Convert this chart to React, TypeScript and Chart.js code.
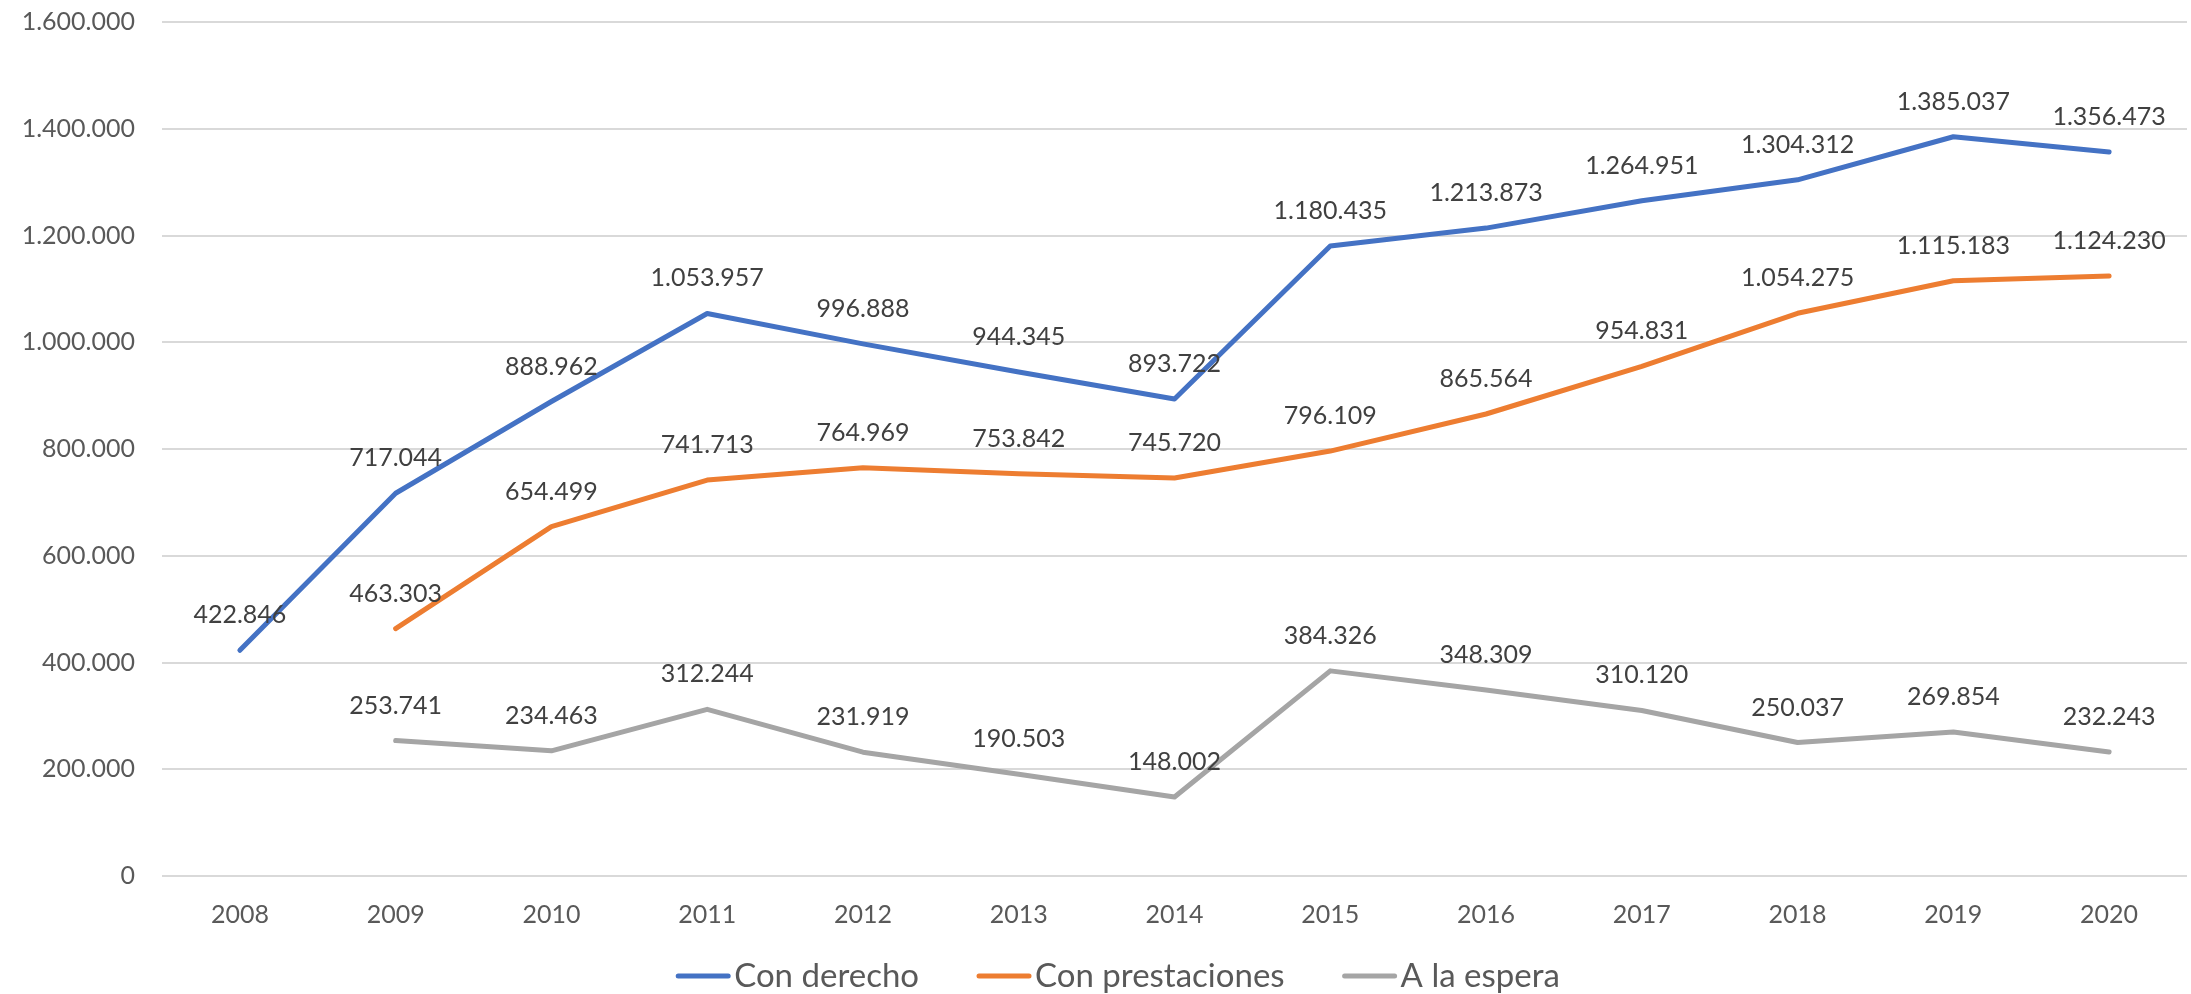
import React, { useEffect, useRef } from "react";
import { Chart, registerables } from "chart.js";

Chart.register(...registerables);

const years = ["2008", "2009", "2010", "2011", "2012", "2013", "2014", "2015", "2016", "2017", "2018", "2019", "2020"];
const conDerecho = [422846, 717044, 888962, 1053957, 996888, 944345, 893722, 1180435, 1213873, 1264951, 1304312, 1385037, 1356473];
const conPrestaciones = [null, 463303, 654499, 741713, 764969, 753842, 745720, 796109, 865564, 954831, 1054275, 1115183, 1124230];
const aLaEspera = [null, 253741, 234463, 312244, 231919, 190503, 148002, 384326, 348309, 310120, 250037, 269854, 232243];
const seriesNames = ["Con derecho", "Con prestaciones", "A la espera"];
const seriesColors = ["#4472C4", "#ED7D31", "#A5A5A5"];
const yMin = 0;
const yMax = 1600000;
const yStep = 200000;

const FONT = "Lato";

const fmt = (v: number) => Math.round(v).toString().replace(/\B(?=(\d{3})+(?!\d))/g, ".");

const dataLabelPlugin = {
  id: "dataLabels",
  afterDatasetsDraw(chart: any) {
    const ctx = chart.ctx;
    ctx.save();
    ctx.font = `25px ${FONT}`;
    ctx.fillStyle = "#404040";
    ctx.textAlign = "center";
    ctx.textBaseline = "alphabetic";
    chart.data.datasets.forEach((ds: any, di: number) => {
      const meta = chart.getDatasetMeta(di);
      meta.data.forEach((el: any, i: number) => {
        const v = ds.data[i];
        if (v === null || v === undefined) return;
        ctx.fillText(fmt(v), el.x, el.y - 27);
      });
    });
    ctx.restore();
  },
};

const legendPlugin = {
  id: "customLegend",
  afterDraw(chart: any) {
    const ctx = chart.ctx;
    ctx.save();
    ctx.font = `33px ${FONT}`;
    const lineLen = 54;
    const gapText = 4;
    const gapItem = 58;
    const widths = seriesNames.map((n) => ctx.measureText(n).width);
    const total = widths.reduce((a, w) => a + lineLen + gapText + w, 0) + gapItem * (seriesNames.length - 1);
    let x = 1118 - total / 2;
    const y = 976;
    seriesNames.forEach((n, i) => {
      ctx.strokeStyle = seriesColors[i];
      ctx.lineWidth = 5;
      ctx.lineCap = "round";
      ctx.beginPath();
      ctx.moveTo(x + 2, y);
      ctx.lineTo(x + lineLen - 2, y);
      ctx.stroke();
      ctx.fillStyle = "#595959";
      ctx.textAlign = "left";
      ctx.textBaseline = "alphabetic";
      ctx.fillText(n, x + lineLen + gapText, y + 11);
      x += lineLen + gapText + widths[i] + gapItem;
    });
    ctx.restore();
  },
};

export default function App() {
  const ref = useRef<HTMLCanvasElement | null>(null);
  useEffect(() => {
    if (!ref.current) return;
    Chart.defaults.font.family = FONT;
    const seriesData = [conDerecho, conPrestaciones, aLaEspera];
    const chart = new Chart(ref.current, {
      type: "line",
      data: {
        labels: years,
        datasets: seriesNames.map((name, i) => ({
          label: name,
          data: seriesData[i] as any,
          borderColor: seriesColors[i],
          backgroundColor: seriesColors[i],
          borderWidth: 5,
          pointRadius: 0,
          pointHoverRadius: 0,
          borderCapStyle: "round",
          borderJoinStyle: "round",
          tension: 0,
          spanGaps: false,
          fill: false,
        })),
      },
      options: {
        animation: false,
        responsive: true,
        maintainAspectRatio: false,
        layout: { padding: { top: 22, right: 4, left: 0, bottom: 0 } },
        plugins: {
          legend: { display: false },
          tooltip: { enabled: false },
        },
        scales: {
          x: {
            offset: true,
            grid: { display: false, drawTicks: false },
            border: { display: false },
            ticks: { color: "#595959", font: { size: 25, family: FONT }, padding: 24, maxRotation: 0 },
            afterFit: (s: any) => {
              s.height = 118;
            },
          },
          y: {
            min: yMin,
            max: yMax,
            grid: { color: "#D9D9D9", lineWidth: 2, drawTicks: false },
            border: { display: false },
            ticks: {
              stepSize: yStep,
              color: "#595959",
              font: { size: 25, family: FONT },
              padding: 27,
              callback: (v: any) => fmt(Number(v)),
            },
            afterFit: (s: any) => {
              s.width = 162;
              s.paddingTop = 15;
              s.paddingBottom = 15;
            },
          },
        },
      },
      plugins: [dataLabelPlugin, legendPlugin],
    });
    return () => chart.destroy();
  }, []);
  return (
    <div style={{ position: "fixed", left: 0, top: 0, width: 2191, height: 994, background: "#fff" }}>
      <canvas ref={ref} />
    </div>
  );
}
